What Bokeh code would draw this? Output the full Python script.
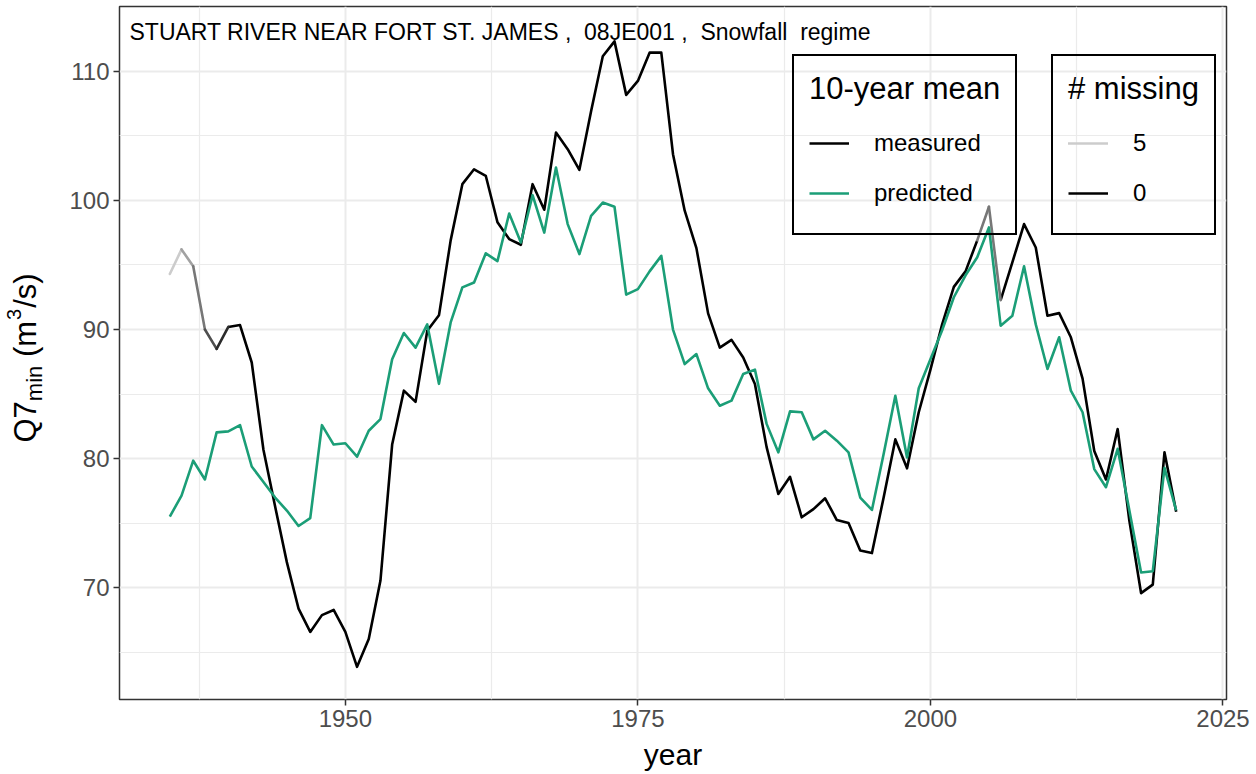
import math
from bokeh.plotting import figure
from bokeh.layouts import row
from bokeh.models import ColumnDataSource, Legend, LegendItem, Label, FixedTicker
from bokeh.embed import file_html
from bokeh.resources import INLINE

# ---------------- data ----------------
years = list(range(1935, 2022))
measured = [94.3, 96.2, 94.9, 90.0, 88.5, 90.2, 90.35, 87.45, 80.7, 76.3,
            72.0, 68.4, 66.6, 67.9, 68.3, 66.6, 63.9, 66.06, 70.57, 81.1,
            85.27, 84.4, 89.9, 91.1, 96.9, 101.25, 102.4, 101.9, 98.3, 97.0,
            96.56, 101.25, 99.27, 105.24, 103.96, 102.36, 106.9, 111.15, 112.3, 108.16,
            109.24, 111.43, 111.43, 103.57, 99.2, 96.3, 91.25, 88.6, 89.2, 87.84,
            85.78, 80.9, 77.28, 78.6, 75.47, 76.1, 76.94, 75.26, 75.03, 72.9,
            72.7, 77.0, 81.5, 79.26, 83.6, 86.9, 90.4, 93.3, 94.5, 96.9,
            99.5, 92.27, 95.2, 98.16, 96.35, 91.07, 91.27, 89.4, 86.2, 80.6,
            78.4, 82.3, 75.2, 69.6, 70.26, 80.5, 75.9]
predicted = [75.52, 77.15, 79.85, 78.4, 82.04, 82.12, 82.6, 79.4, 78.2, 77.0,
             75.99, 74.8, 75.4, 82.6, 81.1, 81.2, 80.16, 82.17, 83.07, 87.7,
             89.73, 88.6, 90.4, 85.8, 90.55, 93.26, 93.64, 95.9, 95.3, 98.98,
             96.74, 100.4, 97.5, 102.54, 98.16, 95.84, 98.8, 99.83, 99.5, 92.7,
             93.13, 94.5, 95.7, 90.0, 87.33, 88.1, 85.45, 84.1, 84.5, 86.56,
             86.9, 82.7, 80.5, 83.67, 83.6, 81.5, 82.17, 81.4, 80.5, 77.0,
             76.04, 80.37, 84.88, 80.1, 85.45, 87.7, 89.95, 92.5, 94.2, 95.6,
             97.9, 90.3, 91.07, 94.9, 90.4, 86.95, 89.4, 85.27, 83.6, 79.2,
             77.8, 80.77, 76.0, 71.2, 71.3, 79.3, 76.0]
missing = [5, 4, 3, 2, 1, 0, 0, 0, 0, 0,
           0, 0, 0, 0, 0, 0, 0, 0, 0, 0,
           0, 0, 0, 0, 0, 0, 0, 0, 0, 0,
           0, 0, 0, 0, 0, 0, 0, 0, 0, 0,
           0, 0, 0, 0, 0, 0, 0, 0, 0, 0,
           0, 0, 0, 0, 0, 0, 0, 0, 0, 0,
           0, 0, 0, 0, 0, 0, 0, 0, 0, 3,
           3, 0, 0, 0, 0, 0, 0, 0, 0, 0,
           0, 0, 0, 0, 0, 0, 0]

x_ticks = [1950, 1975, 2000, 2025]
x_minor = [1937.5, 1962.5, 1987.5, 2012.5]
y_ticks = [70, 80, 90, 100, 110]
y_minor = [65, 75, 85, 95, 105, 115]

title_text = "STUART RIVER NEAR FORT ST. JAMES ,\u00a0 08JE001 ,\u00a0 Snowfall\u00a0 regime"
legend1_title = "10-year mean"
legend1_labels = ["measured", "predicted"]
legend2_title = "# missing"
legend2_labels = ["5", "0"]
x_title = "year"

# ---------------- style ----------------
FONT = "Liberation Sans"
GREEN = "#1b9e77"
miss_colors = {0: "#000000", 1: "#2b2b2b", 2: "#4f4f4f", 3: "#777777", 4: "#a1a1a1", 5: "#cccccc"}
LW = 2.6

W, H = 1256, 774
LW_FIG = 60                       # width of the side strip holding the y title
BL, BR, BT, BB = 119 - LW_FIG, 30, 6, 75
FB = H - BB  # frame bottom in canvas px

p = figure(width=W - LW_FIG, height=H, x_range=(1930.7, 2025.3), y_range=(61.37, 115.0),
           output_backend="svg", toolbar_location=None,
           min_border_left=BL, min_border_right=BR, min_border_top=BT, min_border_bottom=BB)
p.background_fill_color = "white"
p.border_fill_color = "white"
p.outline_line_color = "#333333"
p.outline_line_width = 1.5

# measured: black runs + gray segments (colour by number of missing years)
bxs, bys, cur_x, cur_y = [], [], [], []
sx0, sy0, sx1, sy1, scol = [], [], [], [], []
for i in range(len(years) - 1):
    if missing[i] == 0:
        if not cur_x:
            cur_x, cur_y = [years[i]], [measured[i]]
        cur_x.append(years[i + 1]); cur_y.append(measured[i + 1])
    else:
        if cur_x:
            bxs.append(cur_x); bys.append(cur_y); cur_x, cur_y = [], []
        sx0.append(years[i]); sy0.append(measured[i])
        sx1.append(years[i + 1]); sy1.append(measured[i + 1])
        scol.append(miss_colors[missing[i]])
if cur_x:
    bxs.append(cur_x); bys.append(cur_y)

r_meas = p.multi_line(xs=bxs, ys=bys, line_color="black", line_width=LW, line_join="round")
r_seg = p.segment(x0="x0", y0="y0", x1="x1", y1="y1", color="c", line_width=LW, line_cap="round",
                  source=ColumnDataSource(dict(x0=sx0, y0=sy0, x1=sx1, y1=sy1, c=scol)))
r_pred = p.line(years, predicted, line_color=GREEN, line_width=LW, line_join="round")

# axes
p.xaxis.ticker = FixedTicker(ticks=x_ticks, minor_ticks=x_minor)
p.yaxis.ticker = FixedTicker(ticks=y_ticks, minor_ticks=y_minor)
p.grid.grid_line_color = "#ebebeb"
p.grid.grid_line_width = 2
p.grid.minor_grid_line_color = "#ebebeb"
p.grid.minor_grid_line_width = 1.2
for ax in (p.xaxis, p.yaxis):
    ax.axis_line_color = None
    ax.minor_tick_line_color = None
    ax.major_tick_line_color = "#333333"
    ax.major_tick_line_width = 1.5
    ax.major_tick_out = 6
    ax.major_tick_in = 0
    ax.major_label_text_font = FONT
    ax.major_label_text_font_size = "24px"
    ax.major_label_text_color = "#4d4d4d"
    ax.major_label_standoff = 4
p.xaxis.axis_label = x_title
p.xaxis.axis_label_text_font = FONT
p.xaxis.axis_label_text_font_size = "30px"
p.xaxis.axis_label_text_font_style = "normal"
p.xaxis.axis_label_text_color = "black"
p.xaxis.axis_label_standoff = 8

# in-panel title
p.add_layout(Label(x=10, y=FB - 31, x_units="screen", y_units="screen", text=title_text,
                   text_font=FONT, text_font_size="23px", text_color="black",
                   text_baseline="alphabetic", text_align="left"))

def make_legend(title, items, loc):
    return Legend(items=items, location=loc, title=title,
                  title_text_font=FONT, title_text_font_size="31px", title_text_font_style="normal",
                  title_text_color="black", title_standoff=11,
                  label_text_font=FONT, label_text_font_size="24px", label_text_color="black",
                  glyph_width=40, glyph_height=50, label_height=50, label_standoff=25,
                  spacing=0, padding=15, margin=0,
                  border_line_color="black", border_line_alpha=1.0, border_line_width=2.5,
                  background_fill_color="white", background_fill_alpha=0.0)

FL = 119
leg1 = make_legend(legend1_title, [LegendItem(label=legend1_labels[0], renderers=[r_meas]),
                                   LegendItem(label=legend1_labels[1], renderers=[r_pred])],
                   (792 - FL, FB - 235))
leg2 = make_legend(legend2_title, [LegendItem(label=legend2_labels[0], renderers=[r_seg], index=0),
                                   LegendItem(label=legend2_labels[1], renderers=[r_meas])],
                   (1051 - FL, FB - 235))
p.add_layout(leg1, "center")
p.add_layout(leg2, "center")

# ---------------- y-axis title strip (Q7_min (m^3/s)) ----------------
lf = figure(width=LW_FIG, height=H, x_range=(0, 1), y_range=(0, 1),
            output_backend="svg", toolbar_location=None,
            x_axis_type=None, y_axis_type=None,
            min_border_left=0, min_border_right=0, min_border_top=0, min_border_bottom=0)
lf.outline_line_color = None
lf.grid.visible = False
lf.background_fill_color = "white"
lf.border_fill_color = "white"

AW = {"Q": 778, "7": 556, "m": 833, "i": 222, "n": 556, " ": 278, "(": 333,
      "3": 556, "/": 278, "s": 500, ")": 333}
def tw(s, size):
    return sum(AW[c] for c in s) * size / 1000.0
# (text, font size, baseline shift, gap before piece)
pieces = [("Q7", 31, 0, 0), ("min", 22, 9, 0), ("(m", 31, 0, tw(" ", 31)),
          ("3", 20, -12, 1), ("/s)", 31, 0, 1)]
x0 = 25
ypos = FB - 442
for txt, size, shift, gap in pieces:
    ypos += gap
    lf.add_layout(Label(x=x0 + shift, y=ypos, x_units="screen", y_units="screen", text=txt,
                        angle=math.pi / 2, text_font=FONT, text_font_size=f"{size}px",
                        text_color="black", text_baseline="alphabetic", text_align="left"))
    ypos += tw(txt, size)

layout = row(lf, p)
open("out.html", "w").write(file_html(layout, INLINE))
